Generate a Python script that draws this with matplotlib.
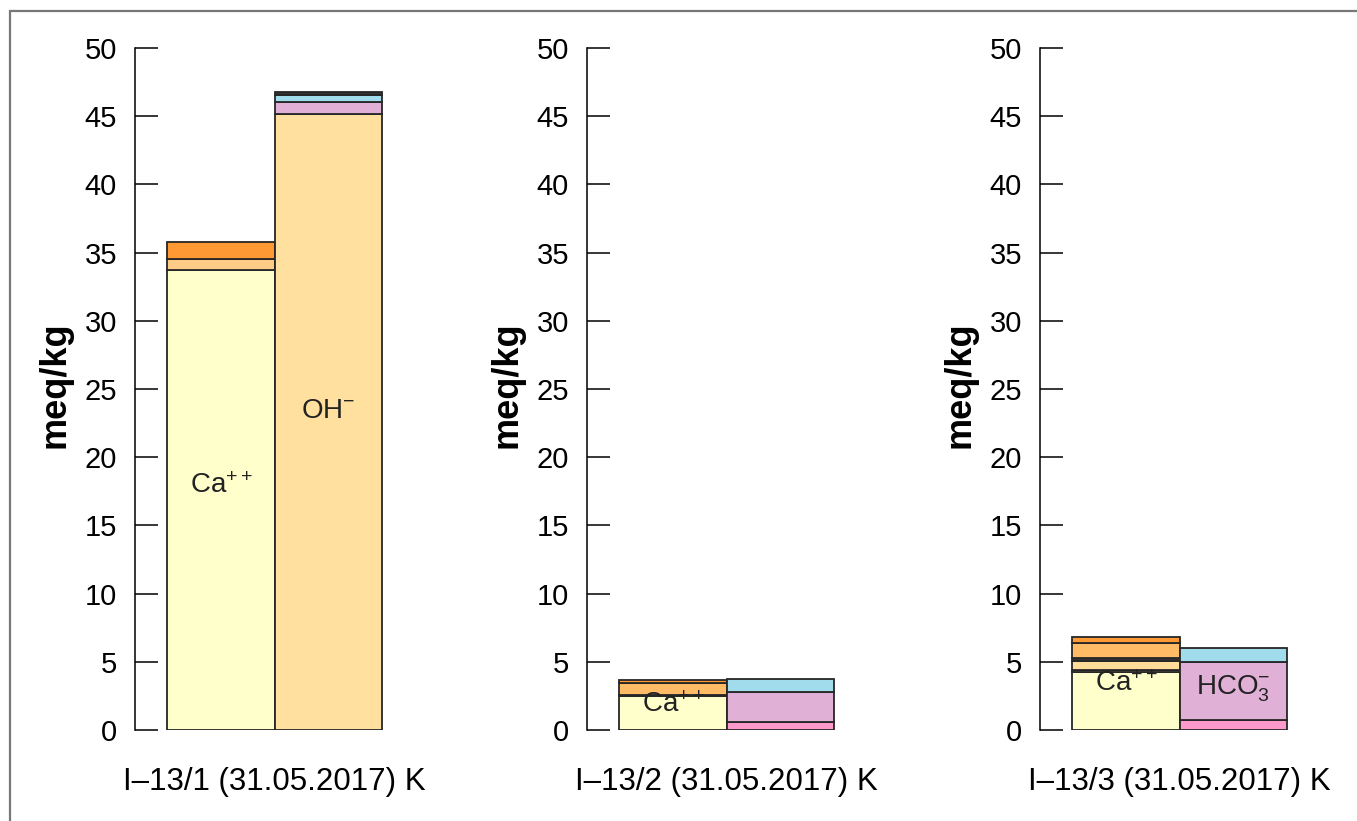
import matplotlib
matplotlib.use("Agg")
import matplotlib.pyplot as plt
from matplotlib.patches import Rectangle

plt.rcParams['font.family'] = ['Liberation Sans', 'DejaVu Sans']
plt.rcParams['mathtext.fontset'] = 'custom'
plt.rcParams['mathtext.rm'] = 'Liberation Sans'
plt.rcParams['mathtext.it'] = 'Liberation Sans'
plt.rcParams['mathtext.bf'] = 'Liberation Sans:bold'

# ---- data ----
samples = ["I\u201313/1 (31.05.2017) K", "I\u201313/2 (31.05.2017) K", "I\u201313/3 (31.05.2017) K"]

YELLOW = "#FFFFCC"
LORANGE1 = "#FFCC88"
LORANGE = "#FFBB66"
ORANGE = "#FF9933"
LTAN = "#FFDD99"
TAN = "#D9C898"
OHTAN = "#FFE09E"
LILAC = "#E0B0D6"
BLUE = "#A0DCEC"
PINK = "#FF99CC"
DARK = "#333333"

cation_values = [
    [33.75, 0.80, 1.21],
    [2.46, 0.12, 0.89, 0.20],
    [4.22, 0.20, 0.66, 0.18, 1.10, 0.44],
]
cation_colors = [
    [YELLOW, LORANGE1, ORANGE],
    [YELLOW, DARK, LORANGE, ORANGE],
    [YELLOW, TAN, LTAN, DARK, LORANGE, ORANGE],
]
anion_values = [
    [45.14, 0.88, 0.53, 0.20],
    [0.61, 2.20, 0.90],
    [0.73, 4.23, 1.03],
]
anion_colors = [
    [OHTAN, LILAC, BLUE, DARK],
    [PINK, LILAC, BLUE],
    [PINK, LILAC, BLUE],
]
cation_labels = ["Ca$^{++}$", "Ca$^{++}$", "Ca$^{++}$"]
anion_labels = ["OH$^{-}$", None, "HCO$_3^{-}$"]

yticks = [0, 5, 10, 15, 20, 25, 30, 35, 40, 45, 50]

# ---- layout ----
W, H = 1357, 821
fig = plt.figure(figsize=(W / 100, H / 100), dpi=100)

frame = Rectangle((10 / W, -0.1), 1.2, (H - 11) / H + 0.1, transform=fig.transFigure,
                  fill=False, edgecolor="#777777", linewidth=1.6, zorder=0)
fig.patches.append(frame)

spine_px = [135, 587, 1040]
unit_px = 107.5
x0, x1 = -0.3, 2.1
ybot_px, ytop_px = 730, 48

for i, L in enumerate(spine_px):
    ax = fig.add_axes([L / W, (H - ybot_px) / H, (x1 - x0) * unit_px / W, (ybot_px - ytop_px) / H])
    ax.set_xlim(x0, x1)
    ax.set_ylim(0, 50)
    ax.patch.set_alpha(0)

    bottom = 0
    for v, c in zip(cation_values[i], cation_colors[i]):
        ax.bar(0.5, v, width=1.0, bottom=bottom, color=c, edgecolor="#262626", linewidth=1.3)
        bottom += v
    ctot = bottom
    bottom = 0
    for v, c in zip(anion_values[i], anion_colors[i]):
        ax.bar(1.5, v, width=1.0, bottom=bottom, color=c, edgecolor="#262626", linewidth=1.3)
        bottom += v
    atot = bottom

    if cation_labels[i]:
        ax.text(0.5, ctot / 2, cation_labels[i], ha="center", va="center", fontsize=20,
                color="#222222", zorder=5)
    if anion_labels[i]:
        ax.text(1.5, atot / 2, anion_labels[i], ha="center", va="center", fontsize=20,
                color="#222222", zorder=5)

    for s in ["top", "right", "bottom"]:
        ax.spines[s].set_visible(False)
    ax.spines["left"].set_bounds(0, 50)
    ax.spines["left"].set_linewidth(1.1)
    ax.set_yticks(yticks)
    ax.set_yticklabels([str(t) for t in yticks])
    ax.tick_params(axis="y", direction="in", length=16.5, width=1.1, pad=13, labelsize=21, colors="black")
    ax.set_xticks([])

    fig.text((L + 32 + unit_px) / W, (H - 782) / H, samples[i], ha="center", va="center", fontsize=22.5)
    fig.text((L - 80) / W, (H - 385) / H, "meq/kg", rotation=90, ha="center", va="center",
             fontsize=26, fontweight="bold")

fig.savefig("out.png", dpi=100)
